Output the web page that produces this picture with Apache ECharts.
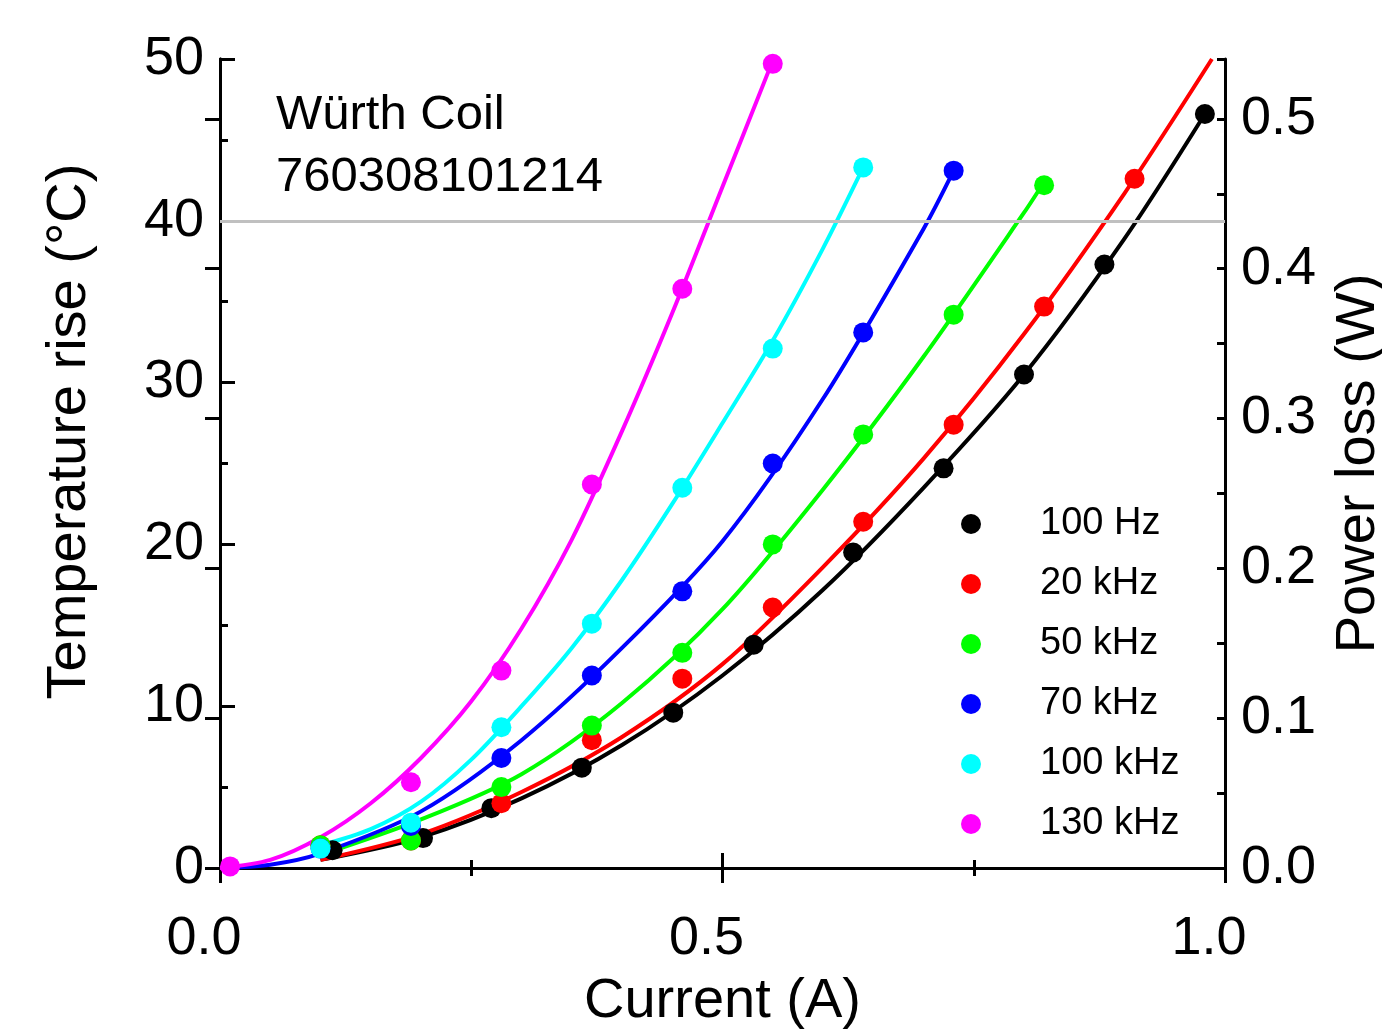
<!DOCTYPE html>
<html>
<head>
<meta charset="utf-8">
<title>Würth Coil 760308101214</title>
<script src="https://cdn.jsdelivr.net/npm/echarts@6/dist/echarts.min.js"></script>
<style>
  html, body { margin: 0; padding: 0; background: #fff; }
  #chart { width: 1382px; height: 1034px; }
</style>
</head>
<body>
<div id="chart"></div>
<script>
// 测量点 (Current in A, temperature rise in °C)
const current = [0.1, 0.19, 0.28, 0.37, 0.46, 0.55, 0.64, 0.73, 0.82, 0.91]
const current100Hz = [0.112, 0.202, 0.27, 0.36, 0.451, 0.531, 0.63, 0.72, 0.80, 0.88, 0.98]
const current130kHz = [0.01, 0.19, 0.28, 0.37, 0.46, 0.55]

const temp100Hz = [1.1, 1.85, 3.7, 6.2, 9.6, 13.8, 19.5, 24.7, 30.5, 37.3, 46.6]
const temp20kHz = [1.4, 1.7, 4.0, 7.9, 11.7, 16.1, 21.4, 27.4, 34.7, 42.6]
const temp50kHz = [1.4, 1.7, 5.0, 8.8, 13.3, 20.0, 26.8, 34.2, 42.2]
const temp70kHz = [1.2, 2.6, 6.8, 11.9, 17.1, 25.0, 33.1, 43.1]
const temp100kHz = [1.2, 2.8, 8.7, 15.1, 23.5, 32.1, 43.3]
const temp130kHz = [0.1, 5.3, 12.2, 23.7, 35.8, 49.7]

// 拟合曲线
const fitX100Hz = [0.1, 0.2, 0.3, 0.4, 0.5, 0.6, 0.7, 0.8, 0.9, 0.98]
const fitY100Hz = [0.5, 1.9, 4.3, 7.6, 11.9, 17.2, 23.5, 30.5, 38.9, 46.6]
const fitX20kHz = [0.1, 0.2, 0.3, 0.4, 0.5, 0.6, 0.7, 0.8, 0.9, 0.987]
const fitY20kHz = [0.5, 2.1, 4.7, 8.1, 12.6, 18.6, 25.3, 33.0, 41.7, 50.0]
const fitX50kHz = [0.1, 0.2, 0.3, 0.4, 0.5, 0.6, 0.7, 0.8, 0.82]
const fitY50kHz = [0.8, 3.0, 5.8, 10.2, 16.0, 23.4, 31.6, 40.5, 42.4]
const fitX70kHz = [0, 0.05, 0.1, 0.2, 0.3, 0.4, 0.5, 0.6, 0.7, 0.73]
const fitY70kHz = [0, 0.2, 0.9, 3.5, 7.9, 13.6, 20.2, 29.0, 39.5, 43.1]
const fitX100kHz = [0.1, 0.15, 0.2, 0.25, 0.3, 0.35, 0.4, 0.45, 0.5, 0.55, 0.6, 0.64]
const fitY100kHz = [1.4, 2.4, 4.1, 6.7, 10.0, 13.6, 17.8, 22.5, 27.5, 32.6, 38.3, 43.3]
const fitX130kHz = [0, 0.05, 0.1, 0.15, 0.2, 0.25, 0.3, 0.35, 0.4, 0.45, 0.5, 0.55]
const fitY130kHz = [0, 0.5, 1.9, 4.0, 6.8, 10.3, 14.8, 20.3, 27.0, 34.3, 42.1, 49.9]

const seriesNames = ["100 Hz", "20 kHz", "50 kHz", "70 kHz", "100 kHz", "130 kHz"]
const seriesColors = ["#000000", "#ff0000", "#00ff00", "#0000ff", "#00ffff", "#ff00ff"]

const limitTemp = 40

const FONT = "'Liberation Sans', Arial, sans-serif"

const zip = (xs, ys) => xs.map((x, i) => [x, ys[i]])

const points = [
  zip(current100Hz, temp100Hz),
  zip(current, temp20kHz),
  zip(current, temp50kHz),
  zip(current, temp70kHz),
  zip(current, temp100kHz),
  zip(current130kHz, temp130kHz),
]
const fits = [
  zip(fitX100Hz, fitY100Hz),
  zip(fitX20kHz, fitY20kHz),
  zip(fitX50kHz, fitY50kHz),
  zip(fitX70kHz, fitY70kHz),
  zip(fitX100kHz, fitY100kHz),
  zip(fitX130kHz, fitY130kHz),
]

const chart = echarts.init(document.getElementById("chart"))

const axisLine = { show: true, lineStyle: { color: "#000", width: 3 } }
const tickStyle = { color: "#000", width: 3 }

const series = []

// 40 °C 参考线
series.push({
  name: "limit",
  type: "line",
  data: [],
  z: 1,
  markLine: {
    silent: true,
    symbol: "none",
    label: { show: false },
    lineStyle: { color: "#c0c0c0", width: 3, type: "solid" },
    data: [{ yAxis: limitTemp }],
  },
})

// 拟合曲线
fits.forEach((d, i) => {
  series.push({
    name: seriesNames[i] + " fit",
    type: "line",
    data: d,
    smooth: 0.3,
    showSymbol: false,
    symbol: "none",
    z: 2,
    lineStyle: { color: seriesColors[i], width: 4 },
    itemStyle: { color: seriesColors[i] },
  })
})

// 测量点
points.forEach((d, i) => {
  series.push({
    name: seriesNames[i],
    type: "scatter",
    data: d,
    symbol: "circle",
    symbolSize: 20,
    z: 3,
    itemStyle: { color: seriesColors[i], opacity: 1 },
  })
})

const option = {
  animation: false,
  backgroundColor: "#fff",
  textStyle: { fontFamily: FONT },
  title: {
    text: "Würth Coil\n760308101214",
    left: 276,
    top: 84,
    padding: 0,
    textStyle: { fontFamily: FONT, fontSize: 49, fontWeight: "normal", color: "#000", lineHeight: 62 },
  },
  legend: {
    data: seriesNames,
    orient: "vertical",
    left: 961,
    top: 504,
    padding: 0,
    itemWidth: 20,
    itemHeight: 20,
    itemGap: 20,
    icon: "circle",
    selectedMode: false,
    textStyle: { fontFamily: FONT, fontSize: 38, color: "#000", lineHeight: 40, padding: [0, 0, 0, 54] },
  },
  grid: { left: 220, right: 157, top: 59, bottom: 166, containLabel: false, outerBoundsMode: "none" },
  xAxis: [
    {
      type: "value",
      position: "bottom",
      min: 0,
      max: 1,
      interval: 0.5,
      name: "Current (A)",
      nameLocation: "middle",
      nameGap: 106,
      nameTextStyle: { fontFamily: FONT, fontSize: 56, color: "#000" },
      axisLine,
      axisTick: { show: true, inside: true, length: 15, lineStyle: tickStyle },
      minorTick: { show: true, splitNumber: 2, length: 8, lineStyle: tickStyle },
      splitLine: { show: false },
      axisLabel: {
        fontFamily: FONT,
        fontSize: 54,
        color: "#000",
        margin: 44,
        padding: [0, 32, 0, 0],
        formatter: (v) => v.toFixed(1),
      },
    },
    {
      type: "value",
      position: "top",
      min: 0,
      max: 1,
      interval: 0.5,
      axisLine,
      axisTick: { show: true, inside: true, length: 15, lineStyle: tickStyle },
      minorTick: { show: true, splitNumber: 2, length: 8, lineStyle: tickStyle },
      splitLine: { show: false },
      axisLabel: { show: false },
    },
  ],
  yAxis: [
    {
      type: "value",
      position: "left",
      min: 0,
      max: 50,
      interval: 10,
      name: "Temperature rise (°C)",
      nameLocation: "middle",
      nameRotate: 90,
      nameGap: 122,
      nameTextStyle: { fontFamily: FONT, fontSize: 56, color: "#000", padding: [0, 0, 0, 64] },
      axisLine,
      axisTick: { show: true, inside: true, length: 15, lineStyle: tickStyle },
      minorTick: { show: true, splitNumber: 2, length: 8, lineStyle: tickStyle },
      splitLine: { show: false },
      axisLabel: { fontFamily: FONT, fontSize: 54, color: "#000", margin: 16 },
    },
    {
      type: "value",
      position: "right",
      min: 0,
      max: 0.54,
      interval: 0.1,
      name: "Power loss (W)",
      nameLocation: "middle",
      nameRotate: 90,
      nameGap: 106,
      nameTextStyle: { fontFamily: FONT, fontSize: 56, color: "#000" },
      axisLine,
      axisTick: { show: true, inside: true, length: 15, lineStyle: tickStyle },
      splitLine: { show: false },
      axisLabel: {
        fontFamily: FONT,
        fontSize: 54,
        color: "#000",
        margin: 16,
        showMaxLabel: false,
        formatter: (v) => v.toFixed(1),
      },
    },
    {
      // 右轴次刻度
      type: "value",
      position: "right",
      min: 0,
      max: 0.54,
      interval: 0.05,
      axisLine,
      axisTick: { show: true, inside: true, length: 8, lineStyle: tickStyle },
      splitLine: { show: false },
      axisLabel: { show: false },
    },
  ],
  series,
}

chart.setOption(option)
</script>
</body>
</html>
